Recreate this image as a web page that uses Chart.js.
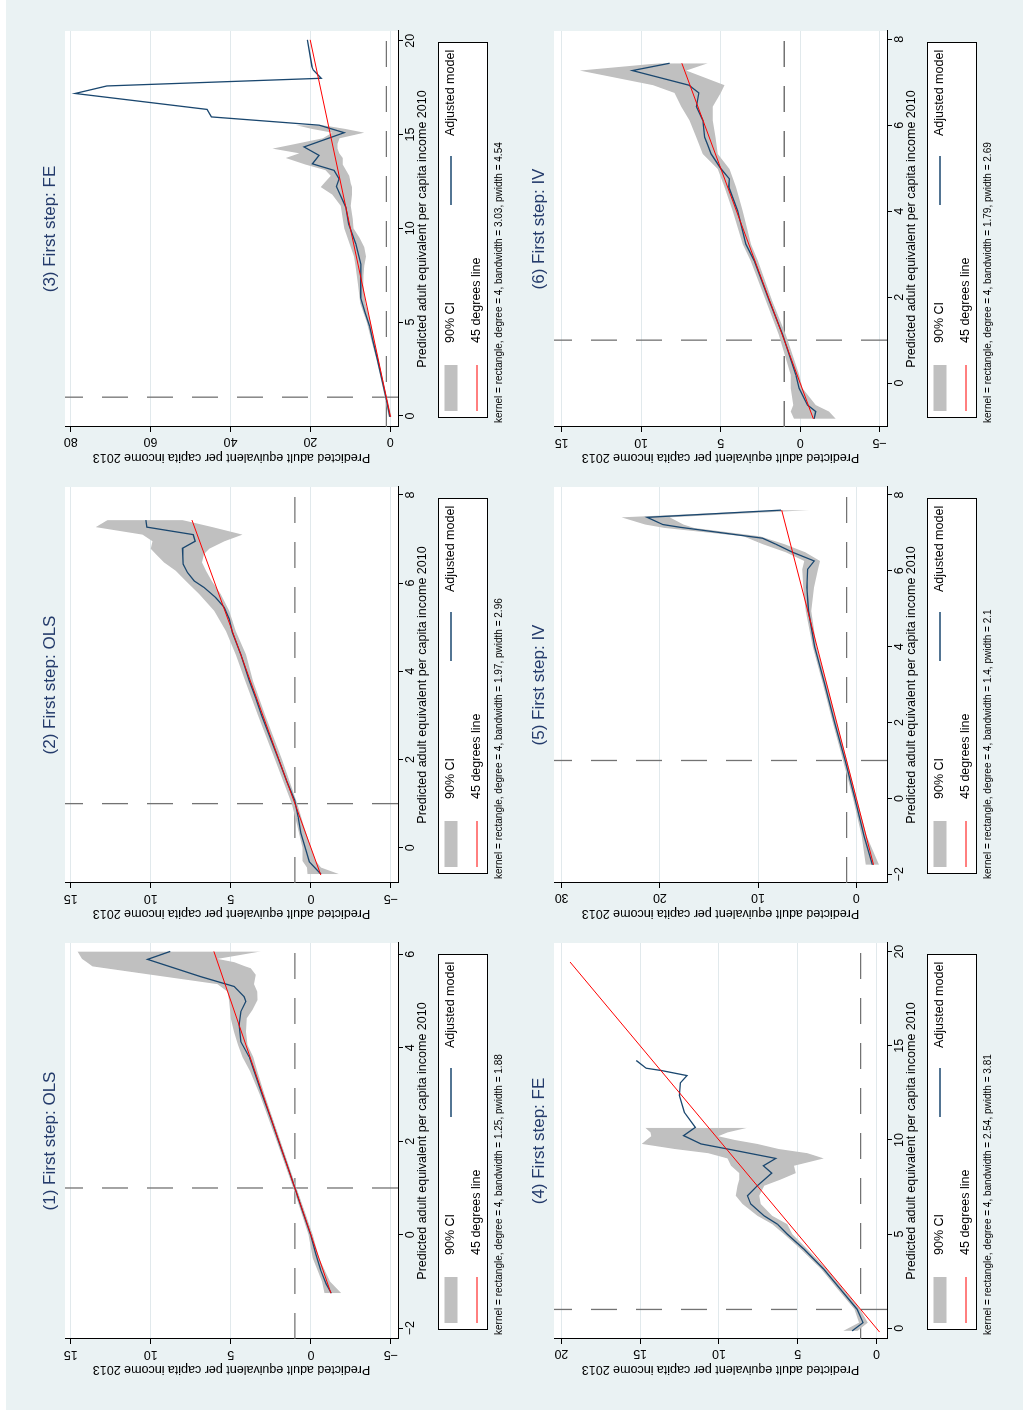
<!DOCTYPE html>
<html>
<head>
<meta charset="utf-8">
<script src="https://cdn.jsdelivr.net/npm/chart.js@4.4.1/dist/chart.umd.min.js"></script>
<style>
  html, body { margin: 0; padding: 0; background: #fff; }
  body { width: 1023px; height: 1411px; overflow: hidden; position: relative; }
  /* the 3x2 grid is laid out landscape and turned a quarter left */
  #fig { position: absolute; left: 0; top: 0; width: 1411px; height: 1023px;
         transform-origin: 0 0; transform: translateY(1411px) rotate(-90deg); }
  #bg { position: absolute; left: 1px; top: 6px; width: 1410px; height: 1017px; background: #eaf2f3; }
  #fig canvas { position: absolute; }
</style>
</head>
<body>
<div id="fig"><div id="bg"></div></div>
<script>
const titles = [
  "(1) First step: OLS", "(2) First step: OLS", "(3) First step: FE",
  "(4) First step: FE", "(5) First step: IV", "(6) First step: IV",
];
const notes = [
  "kernel = rectangle, degree = 4, bandwidth = 1.25, pwidth = 1.88",
  "kernel = rectangle, degree = 4, bandwidth = 1.97, pwidth = 2.96",
  "kernel = rectangle, degree = 4, bandwidth = 3.03, pwidth = 4.54",
  "kernel = rectangle, degree = 4, bandwidth = 2.54, pwidth = 3.81",
  "kernel = rectangle, degree = 4, bandwidth = 1.4, pwidth = 2.1",
  "kernel = rectangle, degree = 4, bandwidth = 1.79, pwidth = 2.69",
];
const seriesLabels = ["90% CI", "Adjusted model", "45 degrees line"];
const xTitle = "Predicted adult equivalent per capita income 2010";
const yTitle = "Predicted adult equivalent per capita income 2013";
const refX = 1;
const refY = 1;

// (1) OLS
const p1X = [-1.25, -1.05, -0.75, -0.4, 0, 0.5, 1, 1.5, 2, 2.5, 3, 3.5, 3.8, 4.13, 4.49, 4.77, 4.99, 5.09, 5.31, 5.52, 5.89, 6.06];
const p1Fit = [-1.27, -0.95, -0.6, -0.3, 0.02, 0.52, 1.0, 1.5, 2.02, 2.52, 3.05, 3.55, 3.85, 4.38, 4.48, 4.38, 4.06, 4.17, 4.79, 6.88, 10.21, 8.79];
const p1CiX = [-1.25, -1.0, -0.5, 0, 1, 2, 3, 3.5, 3.8, 4.06, 4.34, 4.63, 4.81, 5.02, 5.2, 5.36, 5.56, 5.7, 5.74, 5.83, 5.9, 6.06];
const p1Lo = [-1.9, -1.2, -0.5, -0.12, 0.9, 1.9, 2.9, 3.35, 3.6, 3.96, 4.06, 4.0, 3.65, 3.33, 3.35, 3.55, 3.44, 3.75, 4.1, 4.79, 5.83, 3.13];
const p1Hi = [-0.85, -0.7, -0.12, 0.15, 1.1, 2.13, 3.2, 3.8, 4.27, 4.55, 4.8, 5.0, 5.05, 5.12, 5.21, 5.83, 9.95, 12.83, 13.65, 14.0, 14.3, 14.58];
const p1Diag = [-1.25, 6.06];
const p1XTicks = [-2, 0, 2, 4, 6];
const p1YTicks = [-5, 0, 5, 10, 15];
const p1XRange = [-2.23, 6.24];
const p1YRange = [-5.44, 15.36];

// (2) OLS
const p2X = [-0.6, -0.32, -0.05, 0.33, 0.7, 1.08, 1.5, 2, 2.5, 3, 3.4, 3.78, 4.38, 4.88, 5.18, 5.45, 5.67, 5.9, 6.05, 6.24, 6.43, 6.79, 6.95, 7.1, 7.27, 7.43];
const p2Fit = [-0.63, 0.1, 0.31, 0.62, 0.8, 1.02, 1.5, 2.02, 2.55, 3.08, 3.45, 3.85, 4.38, 4.9, 5.1, 5.42, 5.94, 6.67, 7.29, 7.71, 7.98, 8.02, 7.23, 7.35, 10.25, 10.31];
const p2CiX = [-0.6, -0.45, -0.3, 0, 0.5, 1, 2, 3, 3.78, 4.38, 4.91, 5.37, 5.75, 6.05, 6.28, 6.47, 6.66, 6.78, 6.95, 7.1, 7.27, 7.43];
const p2Lo = [-1.77, -0.63, -0.31, 0.0, 0.45, 0.85, 1.8, 2.85, 3.62, 4.06, 4.69, 5.1, 5.63, 6.19, 6.56, 6.81, 6.67, 6.35, 5.4, 4.27, 6.15, 8.02];
const p2Hi = [0.21, 0.25, 0.52, 0.52, 0.85, 1.2, 2.25, 3.3, 4.1, 4.69, 5.31, 6.04, 6.98, 7.81, 8.44, 9.17, 9.69, 10.0, 9.9, 10.52, 13.44, 12.7];
const p2Diag = [-0.62, 7.43];
const p2XTicks = [0, 2, 4, 6, 8];
const p2YTicks = [-5, 0, 5, 10, 15];
const p2XRange = [-0.8, 8.18];
const p2YRange = [-5.44, 15.36];

// (3) FE
const p3X = [-0.05, 1, 2, 3, 4, 4.78, 5.5, 6.3, 7.0, 8.09, 9.16, 10.23, 11.12, 12.23, 12.64, 13.09, 13.44, 13.89, 14.34, 15.1, 15.5, 15.94, 16.34, 17.19, 17.59, 18.0, 18.44, 18.62, 20.05];
const p3Fit = [0.1, 1.1, 2.15, 3.2, 4.35, 5.2, 6.3, 7.4, 7.45, 7.35, 8.6, 10.44, 11.12, 13.47, 12.8, 14.06, 19.49, 17.83, 21.6, 11.55, 17.8, 44.8, 45.86, 78.9, 70.97, 17.3, 19.3, 19.6, 20.75];
const p3CiX = [-0.05, 1, 2, 3, 4, 5, 6, 7, 7.5, 8, 8.5, 9, 9.5, 10, 10.5, 11.2, 11.8, 12.2, 12.4, 12.8, 13.1, 13.4, 13.75, 14, 14.25, 14.5, 14.8, 15.1, 15.3, 15.5];
const p3Lo = [-0.3, 0.8, 1.9, 2.95, 4.0, 4.9, 6.2, 6.8, 6.7, 6.5, 6.1, 6.5, 7.7, 9.2, 9.4, 9.9, 9.6, 9.6, 9.9, 10.3, 11.1, 11.9, 11.9, 12.8, 13.2, 13.2, 12.7, 6.5, 11.3, 17.0];
const p3Hi = [0.4, 1.4, 2.4, 3.45, 4.7, 5.9, 7.5, 8.1, 8.4, 8.7, 9.1, 9.9, 10.7, 11.5, 11.9, 12.4, 14.5, 17.4, 16.6, 14.9, 16.2, 21.2, 26.2, 22.8, 29.5, 23.7, 16.9, 14.5, 19.6, 23.6];
const p3Diag = [-0.05, 20.05];
const p3XTicks = [0, 5, 10, 15, 20];
const p3YTicks = [0, 20, 40, 60, 80];
const p3XRange = [-0.59, 20.52];
const p3YRange = [-1.93, 81.43];

// (4) FE
const p4X = [-0.14, 0.3, 1.01, 2.07, 3.14, 4.2, 5.0, 5.53, 5.97, 6.6, 7.04, 7.57, 8.24, 8.63, 9.02, 9.52, 9.79, 10.23, 10.67, 11.47, 12.36, 13.03, 13.42, 13.69, 13.81, 14.22];
const p4Fit = [1.54, 0.85, 1.23, 2.28, 3.34, 4.6, 5.66, 6.29, 7.13, 7.98, 8.19, 7.56, 6.65, 7.18, 6.39, 9.45, 11.14, 12.24, 11.5, 12.2, 12.51, 12.45, 12.03, 13.67, 14.62, 15.25];
const p4CiX = [-0.14, 0.3, 1.01, 2.07, 3.14, 4.2, 5.0, 5.53, 5.97, 6.6, 7.04, 7.57, 7.9, 8.24, 8.63, 9.02, 9.3, 9.52, 9.79, 10.0, 10.2, 10.4, 10.65];
const p4Lo = [1.2, 0.55, 1.05, 2.1, 3.15, 4.4, 5.34, 5.66, 6.61, 7.34, 7.44, 7.13, 6.07, 5.13, 5.24, 3.34, 4.39, 6.2, 7.56, 9.0, 10.04, 9.45, 8.19];
const p4Hi = [2.1, 1.1, 1.4, 2.45, 3.5, 4.8, 5.87, 6.61, 7.55, 8.5, 8.93, 8.82, 8.71, 8.71, 9.24, 9.46, 10.7, 12.8, 14.9, 14.6, 14.3, 14.35, 14.68];
const p4Diag = [-0.2, 19.45];
const p4XTicks = [0, 5, 10, 15, 20];
const p4YTicks = [0, 5, 10, 15, 20];
const p4XRange = [-0.57, 20.46];
const p4YRange = [-0.67, 20.47];

// (5) IV
const p5X = [-1.75, -1.0, 0, 1, 2, 3, 4, 4.94, 5.56, 6.04, 6.26, 6.49, 6.7, 6.86, 7.15, 7.22, 7.41, 7.6];
const p5Fit = [-1.63, -0.8, 0.15, 1.15, 2.2, 3.2, 4.25, 4.87, 5.04, 4.97, 4.29, 6.5, 8.18, 9.54, 18.0, 19.7, 21.3, 7.68];
const p5CiX = [-1.75, -1.0, 0, 1, 2, 3, 4, 4.94, 5.56, 6.04, 6.26, 6.49, 6.7, 6.91, 7.13, 7.22, 7.41, 7.6];
const p5Lo = [-2.3, -1.05, -0.05, 0.95, 2.0, 3.0, 4.05, 4.6, 4.3, 3.9, 3.7, 5.2, 7.3, 9.8, 16.5, 17.6, 19.0, 4.8];
const p5Hi = [-0.95, -0.55, 0.35, 1.35, 2.4, 3.4, 4.45, 5.15, 5.4, 5.5, 5.3, 7.2, 9.5, 11.5, 19.5, 21.5, 23.9, 8.0];
const p5Diag = [-1.75, 7.6];
const p5XTicks = [-2, 0, 2, 4, 6, 8];
const p5YTicks = [0, 10, 20, 30];
const p5XRange = [-2.23, 8.21];
const p5YRange = [-3.12, 30.78];

// (6) IV
const p6X = [-0.83, -0.66, -0.51, -0.12, 0.19, 1.13, 1.91, 2.84, 3.23, 4.01, 4.56, 4.75, 4.98, 5.33, 5.53, 5.72, 6.11, 6.43, 6.75, 6.93, 7.27, 7.44];
const p6Fit = [-0.88, -0.98, -0.46, 0.06, 0.27, 1.11, 1.94, 2.88, 3.41, 3.93, 4.49, 4.45, 4.97, 5.6, 5.81, 6.01, 6.12, 6.53, 6.37, 7.0, 10.55, 8.21];
const p6CiX = [-0.83, -0.66, -0.51, -0.12, 0.19, 1.13, 1.91, 2.84, 3.23, 4.0, 4.56, 4.98, 5.33, 5.72, 6.11, 6.43, 6.75, 6.93, 7.27, 7.44];
const p6Lo = [-2.23, -1.82, -0.98, -0.15, 0.06, 0.9, 1.75, 2.65, 3.09, 3.61, 4.03, 4.45, 5.18, 5.33, 5.5, 5.5, 5.0, 4.76, 7.17, 5.81];
const p6Hi = [0.39, 0.6, 0.44, 0.6, 0.6, 1.35, 2.15, 3.1, 3.61, 4.24, 4.76, 5.18, 6.12, 6.54, 6.96, 7.48, 7.9, 9.26, 13.86, 8.84];
const p6Diag = [-0.83, 7.44];
const p6XTicks = [0, 2, 4, 6, 8];
const p6YTicks = [-5, 0, 5, 10, 15];
const p6XRange = [-1.02, 8.19];
const p6YRange = [-5.46, 15.48];

const panels = [
  { x: p1X, fit: p1Fit, ciX: p1CiX, lo: p1Lo, hi: p1Hi, diag: p1Diag, xTicks: p1XTicks, yTicks: p1YTicks, xRange: p1XRange, yRange: p1YRange },
  { x: p2X, fit: p2Fit, ciX: p2CiX, lo: p2Lo, hi: p2Hi, diag: p2Diag, xTicks: p2XTicks, yTicks: p2YTicks, xRange: p2XRange, yRange: p2YRange },
  { x: p3X, fit: p3Fit, ciX: p3CiX, lo: p3Lo, hi: p3Hi, diag: p3Diag, xTicks: p3XTicks, yTicks: p3YTicks, xRange: p3XRange, yRange: p3YRange },
  { x: p4X, fit: p4Fit, ciX: p4CiX, lo: p4Lo, hi: p4Hi, diag: p4Diag, xTicks: p4XTicks, yTicks: p4YTicks, xRange: p4XRange, yRange: p4YRange },
  { x: p5X, fit: p5Fit, ciX: p5CiX, lo: p5Lo, hi: p5Hi, diag: p5Diag, xTicks: p5XTicks, yTicks: p5YTicks, xRange: p5XRange, yRange: p5YRange },
  { x: p6X, fit: p6Fit, ciX: p6CiX, lo: p6Lo, hi: p6Hi, diag: p6Diag, xTicks: p6XTicks, yTicks: p6YTicks, xRange: p6XRange, yRange: p6YRange },
];

const NAVY = "#1a476f";
const RED = "#ff0000";
const CI_GRAY = "#c0c0c0";
const GRID = "#e1e9ec";
const TITLE = "#243b6b";
const FONT = "'Liberation Sans', Arial, sans-serif";

Chart.defaults.font.family = FONT;
Chart.defaults.color = "#000";

const pts = (xs, ys) => xs.map((x, i) => ({ x, y: ys[i] }));
const fmt = (v) => (v < 0 ? "\u2212" + Math.abs(v) : String(v));

// white plot region on the bluish graph background
const plotBg = {
  id: "plotBg",
  beforeDraw(chart) {
    const { ctx, chartArea: a } = chart;
    ctx.save();
    ctx.fillStyle = "#fff";
    ctx.fillRect(a.left, a.top, a.right - a.left, a.bottom - a.top);
    ctx.restore();
  },
};

// dashed lines at x = 1 and y = 1
const refLines = {
  id: "refLines",
  beforeDatasetsDraw(chart) {
    const { ctx, chartArea: a, scales } = chart;
    const px = scales.x.getPixelForValue(refX);
    const py = scales.y.getPixelForValue(refY);
    ctx.save();
    ctx.strokeStyle = "#737373";
    ctx.lineWidth = 1.3;
    ctx.setLineDash([26, 19]);
    ctx.beginPath();
    ctx.moveTo(px, a.bottom);
    ctx.lineTo(px, a.top);
    ctx.moveTo(a.left, py);
    ctx.lineTo(a.right, py);
    ctx.stroke();
    ctx.restore();
  },
};

// boxed two-row key plus the kernel note underneath
const keyAndNote = {
  id: "keyAndNote",
  afterDraw(chart, args, opts) {
    const { ctx, chartArea: a } = chart;
    const [ci, , fit, diag] = chart.data.datasets;
    const bx = a.left + 9, by = a.bottom + 40;
    const r1 = a.bottom + 53, r2 = a.bottom + 79;
    ctx.save();
    ctx.fillStyle = "#fff";
    ctx.fillRect(bx, by, 375, 49);
    ctx.strokeStyle = "#000";
    ctx.lineWidth = 1;
    ctx.strokeRect(Math.round(bx) + 0.5, Math.round(by) + 0.5, 375, 49);

    ctx.fillStyle = ci.backgroundColor;
    ctx.fillRect(a.left + 16, r1 - 6.5, 46, 13);

    ctx.lineWidth = fit.borderWidth;
    ctx.strokeStyle = fit.borderColor;
    ctx.beginPath();
    ctx.moveTo(a.left + 222, r1);
    ctx.lineTo(a.left + 271, r1);
    ctx.stroke();

    ctx.lineWidth = diag.borderWidth;
    ctx.strokeStyle = diag.borderColor;
    ctx.beginPath();
    ctx.moveTo(a.left + 16, r2);
    ctx.lineTo(a.left + 62, r2);
    ctx.stroke();

    ctx.fillStyle = "#000";
    ctx.textBaseline = "middle";
    ctx.textAlign = "left";
    ctx.font = "12.5px " + FONT;
    ctx.fillText(ci.label, a.left + 84, r1);
    ctx.fillText(fit.label, a.left + 291, r1);
    ctx.fillText(diag.label, a.left + 84, r2);

    ctx.font = "10px " + FONT;
    ctx.fillText(opts.note, a.left + 4, a.bottom + 101);
    ctx.restore();
  },
};

const fig = document.getElementById("fig");

panels.forEach((p, i) => {
  const col = i % 3;
  const row = Math.floor(i / 3);
  const canvas = document.createElement("canvas");
  canvas.width = 480;
  canvas.height = 500;
  canvas.style.left = 456 * col + "px";
  canvas.style.top = 5 + 489 * row + "px";
  fig.appendChild(canvas);

  new Chart(canvas.getContext("2d"), {
    type: "line",
    data: {
      datasets: [
        {
          label: seriesLabels[0],
          data: pts(p.ciX, p.hi),
          backgroundColor: CI_GRAY,
          borderWidth: 0,
          pointRadius: 0,
          fill: "+1",
          order: 2,
        },
        {
          label: "lower",
          data: pts(p.ciX, p.lo),
          borderWidth: 0,
          pointRadius: 0,
          fill: false,
          order: 3,
        },
        {
          label: seriesLabels[1],
          data: pts(p.x, p.fit),
          borderColor: NAVY,
          borderWidth: 1.3,
          pointRadius: 0,
          fill: false,
          order: 1,
        },
        {
          label: seriesLabels[2],
          data: pts(p.diag, p.diag),
          borderColor: RED,
          borderWidth: 1,
          pointRadius: 0,
          fill: false,
          order: 0,
        },
      ],
    },
    options: {
      responsive: false,
      animation: false,
      layout: { padding: { left: 34.5, right: 12, top: 0, bottom: 74.5 } },
      plugins: {
        legend: { display: false },
        tooltip: { enabled: false },
        title: {
          display: true,
          text: titles[i],
          color: TITLE,
          fullSize: false,
          font: { size: 17, weight: "normal" },
          padding: { top: 35, bottom: 4.6 },
        },
        keyAndNote: { note: notes[i] },
      },
      scales: {
        x: {
          type: "linear",
          min: p.xRange[0],
          max: p.xRange[1],
          afterBuildTicks: (s) => { s.ticks = p.xTicks.map((v) => ({ value: v })); },
          afterFit: (s) => { s.height = 32.5; },
          grid: { drawOnChartArea: false, tickLength: 5, tickColor: "#000" },
          border: { color: "#000", width: 1 },
          ticks: { font: { size: 12.5 }, padding: 0, minRotation: 0, maxRotation: 0, autoSkip: false, callback: fmt },
          title: { display: true, text: xTitle, font: { size: 12.5 }, padding: 0 },
        },
        y: {
          type: "linear",
          min: p.yRange[0],
          max: p.yRange[1],
          afterBuildTicks: (s) => { s.ticks = p.yTicks.map((v) => ({ value: v })); },
          afterFit: (s) => { s.width = 37.5; },
          grid: { color: GRID, tickLength: 5, tickColor: "#000" },
          border: { color: "#000", width: 1 },
          ticks: { font: { size: 12.5 }, padding: 3, minRotation: 90, maxRotation: 90, crossAlign: "center", autoSkip: false, callback: fmt },
          title: { display: true, text: yTitle, font: { size: 12.5 }, padding: 0 },
        },
      },
    },
    plugins: [plotBg, refLines, keyAndNote],
  });
});
</script>
</body>
</html>
